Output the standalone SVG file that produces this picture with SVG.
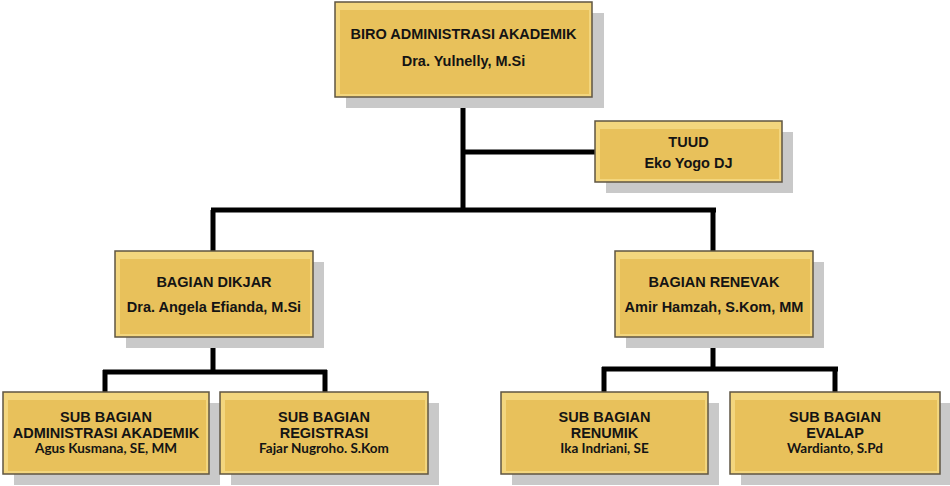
<svg xmlns="http://www.w3.org/2000/svg" width="950" height="486" viewBox="0 0 950 486">
<style>
.sh{fill:#c9c9c9}
.bo{fill:#F3D67E;stroke:#5f5543;stroke-width:1.5}
.bi{fill:#E8C15B;stroke:none}
.t{font-family:"Liberation Sans",Arial,sans-serif;font-weight:bold;font-size:14.5px;fill:#141414;text-anchor:middle}
.s{font-family:Lato,"Liberation Sans",sans-serif;font-weight:bold;font-size:13.5px;fill:#141414;text-anchor:middle}
.c{fill:none;stroke:#000;stroke-width:5;stroke-linecap:butt}
</style>
<rect width="950" height="486" fill="#fff"/>
<g id="connectors">
<path class="c" d="M463,97 V210 M463,152 H595 M211,210 H716 M213,210 V251 M713,210 V251"/>
<path class="c" d="M213,337 V372 M103,372 H327 M105,370 V392 M325,370 V392"/>
<path class="c" d="M713,337 V369 M602,369 H838 M604,367 V392 M835,367 V392"/>
</g>
<g id="biro">
<rect class="sh" x="346" y="13" width="258" height="95"/>
<rect class="bo" x="335" y="2" width="257" height="95"/>
<rect class="bi" x="340" y="10" width="249" height="84"/>
<text class="t" x="463.5" y="39">BIRO ADMINISTRASI AKADEMIK</text>
<text class="t" x="463.5" y="66">Dra. Yulnelly, M.Si</text>
</g>
<g id="tuud">
<rect class="sh" x="606" y="132" width="187" height="61"/>
<rect class="bo" x="595" y="121" width="187" height="61"/>
<rect class="bi" x="600" y="129" width="179" height="50"/>
<text class="t" x="688.5" y="147">TUUD</text>
<text class="t" x="688.5" y="168">Eko Yogo DJ</text>
</g>
<g id="dikjar">
<rect class="sh" x="126" y="262" width="198" height="86"/>
<rect class="bo" x="115" y="251" width="198" height="86"/>
<rect class="bi" x="120" y="259" width="190" height="75"/>
<text class="t" x="214" y="287">BAGIAN DIKJAR</text>
<text class="t" x="214" y="312">Dra. Angela Efianda, M.Si</text>
</g>
<g id="renevak">
<rect class="sh" x="626" y="262" width="198" height="86"/>
<rect class="bo" x="615" y="251" width="198" height="86"/>
<rect class="bi" x="620" y="259" width="190" height="75"/>
<text class="t" x="714" y="287">BAGIAN RENEVAK</text>
<text class="t" x="714" y="312">Amir Hamzah, S.Kom, MM</text>
</g>
<g id="sub-adm">
<rect class="sh" x="14" y="403" width="206" height="82"/>
<rect class="bo" x="3" y="392" width="206" height="82"/>
<rect class="bi" x="8" y="400" width="198" height="71"/>
<text class="t" x="106" y="422">SUB BAGIAN</text>
<text class="t" x="106" y="438">ADMINISTRASI AKADEMIK</text>
<text class="s" x="106" y="453">Agus Kusmana, SE, MM</text>
</g>
<g id="sub-reg">
<rect class="sh" x="231" y="403" width="208" height="82"/>
<rect class="bo" x="220" y="392" width="208" height="82"/>
<rect class="bi" x="225" y="400" width="200" height="71"/>
<text class="t" x="324" y="422">SUB BAGIAN</text>
<text class="t" x="324" y="438">REGISTRASI</text>
<text class="s" x="324" y="453">Fajar Nugroho. S.Kom</text>
</g>
<g id="sub-renumik">
<rect class="sh" x="512" y="403" width="207" height="82"/>
<rect class="bo" x="501" y="392" width="207" height="82"/>
<rect class="bi" x="506" y="400" width="199" height="71"/>
<text class="t" x="604.5" y="422">SUB BAGIAN</text>
<text class="t" x="604.5" y="438">RENUMIK</text>
<text class="s" x="604.5" y="453">Ika Indriani, SE</text>
</g>
<g id="sub-evalap">
<rect class="sh" x="741" y="403" width="209" height="82"/>
<rect class="bo" x="730" y="392" width="210" height="82"/>
<rect class="bi" x="735" y="400" width="202" height="71"/>
<text class="t" x="835" y="422">SUB BAGIAN</text>
<text class="t" x="835" y="438">EVALAP</text>
<text class="s" x="835" y="453">Wardianto, S.Pd</text>
</g>
</svg>
